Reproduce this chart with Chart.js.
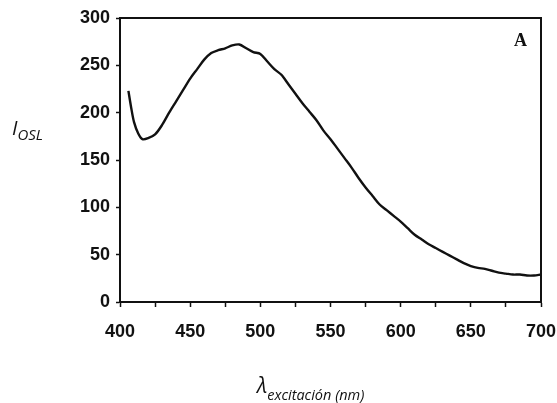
<!DOCTYPE html>
<html>
<head>
<meta charset="utf-8">
<script src="https://cdn.jsdelivr.net/npm/chart.js@4/dist/chart.umd.min.js"></script>
<style>
  html, body { margin: 0; padding: 0; background: #fff; }
  #wrap { position: relative; width: 557px; height: 403px; }
  canvas { position: absolute; left: 0; top: 0; }
  .lbl { position: absolute; font-family: "Open Sans", sans-serif; font-style: italic; color: #111; white-space: nowrap; }
  .lbl sub { font-size: 15px; vertical-align: baseline; position: relative; top: 5px; }
  #ylab { left: 12px; top: 114px; font-size: 20px; }
  #xlab { left: 257px; top: 371px; font-size: 21px; }
  #xlab sub { font-size: 14.5px; top: 7px; }
  #tag { position: absolute; left: 514px; top: 30px; font-family: "Liberation Serif", serif; font-weight: bold; font-size: 18px; color: #111; }
</style>
</head>
<body>
<div id="wrap">
  <canvas id="chart" width="557" height="403"></canvas>
  <div class="lbl" id="ylab">I<sub>OSL</sub></div>
  <div class="lbl" id="xlab">λ<sub>excitación (nm)</sub></div>
  <div id="tag">A</div>
</div>
<script>
// ── Data ─────────────────────────────────────────────────────────
const wavelength = [
  406, 408, 410, 413, 416, 420, 425, 430, 435, 440, 445, 450, 455, 460, 465,
  470, 475, 480, 485, 490, 495, 500, 505, 510, 515, 520, 525, 530, 535, 540,
  545, 550, 555, 560, 565, 570, 575, 580, 585, 590, 595, 600, 605, 610, 615,
  620, 625, 630, 635, 640, 645, 650, 655, 660, 665, 670, 675, 680, 685, 690,
  695, 700,
];
const intensity = [
  223, 205, 190, 178, 172, 173, 177, 187, 200, 212, 224, 236, 246, 256, 263,
  266, 268, 271, 272, 268, 264, 262, 254, 246, 240, 230, 220, 210, 201, 192,
  181, 172, 162, 152, 142, 131, 121, 112, 103, 97, 91, 85, 78, 71, 66,
  61, 57, 53, 49, 45, 41, 38, 36, 35, 33, 31, 30, 29, 29, 28,
  28, 29,
];
const xTickLabels = [400, 450, 500, 550, 600, 650, 700];
const yTickLabels = [0, 50, 100, 150, 200, 250, 300];

const INK = "#111";
const tickFont = { family: "'Liberation Sans', Arial, sans-serif", size: 18, weight: "bold" };

// box around the plot area (top + right sides too)
const frame = {
  id: "frame",
  afterDraw(chart) {
    const { ctx, chartArea: a } = chart;
    ctx.save();
    ctx.strokeStyle = INK;
    ctx.lineWidth = 2;
    ctx.strokeRect(a.left, a.top, a.right - a.left, a.bottom - a.top);
    ctx.restore();
  },
};

new Chart(document.getElementById("chart"), {
  type: "line",
  data: {
    datasets: [{
      data: wavelength.map((w, i) => ({ x: w, y: intensity[i] })),
      borderColor: INK,
      borderWidth: 2.4,
      pointRadius: 0,
      tension: 0.3,
      fill: false,
    }],
  },
  options: {
    responsive: false,
    animation: false,
    layout: { padding: { top: 18, right: 16, left: 0, bottom: 0 } },
    plugins: { legend: { display: false }, tooltip: { enabled: false } },
    scales: {
      x: {
        type: "linear",
        min: 400,
        max: 700,
        afterFit: (s) => { s.height = 101; s.paddingRight = 0; },
        ticks: {
          stepSize: 25,
          autoSkip: false,
          maxRotation: 0,
          padding: 14,
          color: INK,
          font: tickFont,
          callback: (v) => (xTickLabels.includes(v) ? String(v) : ""),
        },
        grid: { drawOnChartArea: false, drawTicks: true, tickLength: 5, tickColor: INK, tickWidth: 1.5 },
        border: { color: INK, width: 2 },
      },
      y: {
        min: 0,
        max: 300,
        afterFit: (s) => { s.width = 120; },
        ticks: {
          stepSize: 50,
          padding: 6,
          color: INK,
          font: tickFont,
          callback: (v) => (yTickLabels.includes(v) ? String(v) : ""),
        },
        grid: { drawOnChartArea: false, drawTicks: true, tickLength: 4, tickColor: INK, tickWidth: 1.5 },
        border: { color: INK, width: 2 },
      },
    },
  },
  plugins: [frame],
});
</script>
</body>
</html>
